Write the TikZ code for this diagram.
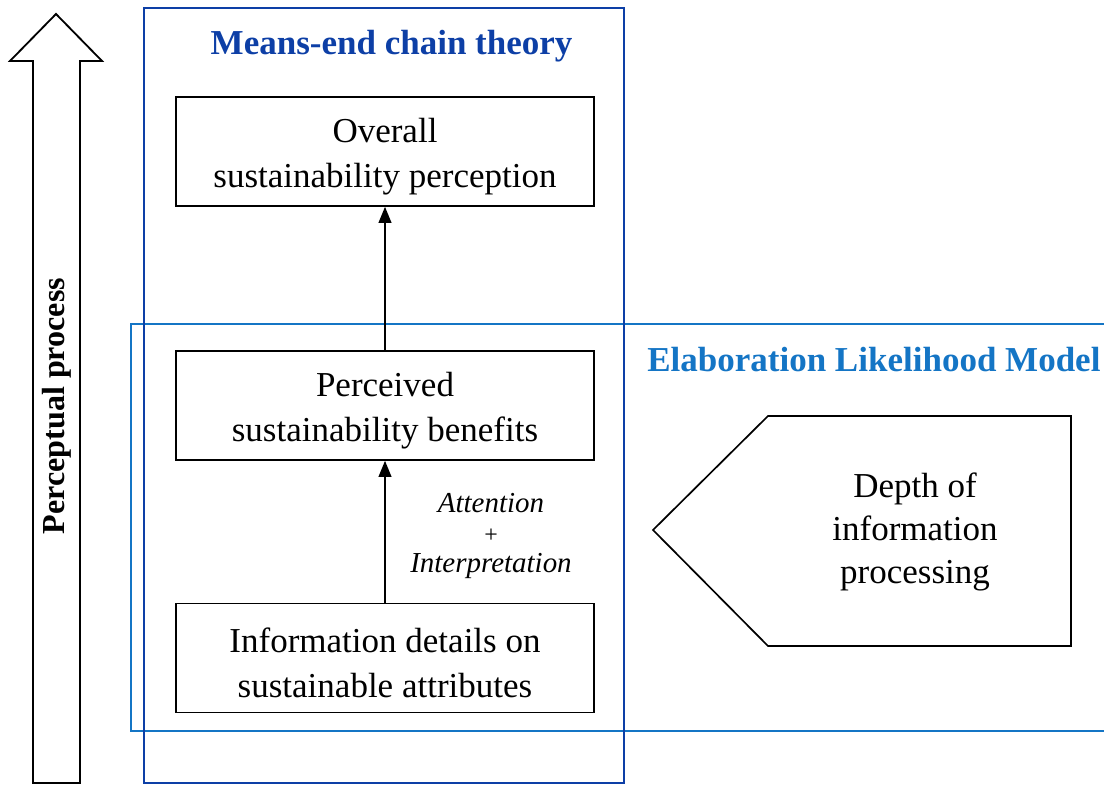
\documentclass[tikz,border=0pt]{standalone}
\usepackage{fontspec}
\setmainfont{Liberation Serif}
\usepackage{tikz}
\usetikzlibrary{arrows.meta}
\definecolor{mecblue}{HTML}{0D3FA6}
\definecolor{elmblue}{HTML}{1475C5}

\begin{document}
\begin{tikzpicture}[x=1cm, y=1cm,
  stagebox/.style={draw=black, line width=1.2pt, minimum width=10.45cm, minimum height=2.725cm,
    align=center, inner sep=0pt, text height=56pt, font=\fontsize{24.9pt}{31.5pt}\selectfont},
  flow/.style={-{Triangle[length=0.4cm, width=0.32cm]}, line width=1pt},
  frametitle/.style={font=\fontsize{24.9pt}{30pt}\selectfont\bfseries}]
\useasboundingbox (0,0) rectangle (27.6,19.6);
\clip (0,0) rectangle (27.6,19.6);
% perceptual process arrow
\draw[line width=1.3pt] (0.825,0.025) -- (0.825,18.075) -- (0.25,18.075) -- (1.4,19.25)
  -- (2.55,18.075) -- (2.0,18.075) -- (2.0,0.025) -- cycle;
\node[rotate=90, font=\fontsize{22.8pt}{27pt}\selectfont\bfseries] (percept) at (1.425,9.45) {Perceptual process};
% theory frames
\draw[elmblue, line width=1.5pt] (3.275,1.325) rectangle (28.0,11.5);
\draw[mecblue, line width=1.5pt] (3.6,0.025) rectangle (15.6,19.4);
\node[frametitle, text=mecblue] (mectitle) at (9.79,18.45) {Means-end chain theory};
\node[frametitle, text=elmblue, anchor=west, inner sep=0pt] (elmtitle) at (16.175,10.6) {Elaboration Likelihood Model};
% chain
\node[stagebox] (overall) at (9.625,15.8125) {Overall\\sustainability perception};
\node[stagebox] (benefits) at (9.625,9.4625) {Perceived\\sustainability benefits};
\node[stagebox] (details) at (9.625,3.15) {Information details on\\sustainable attributes};
\draw[flow] (details) -- (benefits);
\draw[flow] (benefits) -- (overall);
\node[font=\fontsize{20.6pt}{21.3pt}\selectfont\itshape, align=center] (attn) at (12.275,6.2)
  {Attention\\{\upshape\fontsize{17pt}{21.3pt}\selectfont +}\\Interpretation};
% depth of processing
\draw[line width=1.2pt] (16.325,6.35) -- (19.2,9.2) -- (26.775,9.2) -- (26.775,3.45) -- (19.2,3.45) -- cycle;
\node[font=\fontsize{24.9pt}{30.5pt}\selectfont, align=center] (depth) at (22.875,6.31) {Depth of\\information\\processing};
\end{tikzpicture}
\end{document}
